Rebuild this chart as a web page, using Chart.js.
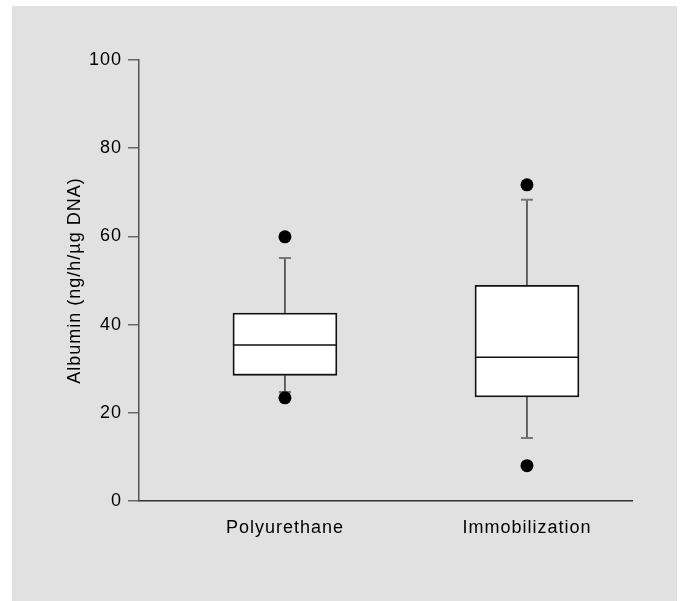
<!DOCTYPE html>
<html>
<head>
<meta charset="utf-8">
<script src="https://cdn.jsdelivr.net/npm/chart.js@4"></script>
<style>
  html, body { margin: 0; padding: 0; background: #ffffff; }
  #panel { position: absolute; left: 12px; top: 6px; width: 665px; height: 595px; background: #e1e1e1; }
</style>
</head>
<body>
<div id="panel"><canvas id="boxChart" width="665" height="595"></canvas></div>
<script>
const categories = ['Polyurethane', 'Immobilization'];
const positions = [1, 2];
const q1 = [28.5, 23.6];
const medians = [35.4, 32.6];
const q3 = [42.6, 48.9];
const whiskerLow = [24.7, 14.3];
const whiskerHigh = [55.1, 68.3];
const outliers = [[23.4, 59.9], [8.0, 71.7]];
const yTicks = [0, 20, 40, 60, 80, 100];

const fontFamily = '"Liberation Sans", Arial, Helvetica, sans-serif';
const textColor = '#000000';

// spacing the text out a bit, the original type is set loose
const spacing = {
  id: 'spacing',
  beforeLayout(chart) { chart.ctx.letterSpacing = '1px'; },
  beforeDraw(chart) { chart.ctx.letterSpacing = '1px'; }
};

const whiskers = {
  id: 'whiskers',
  beforeDatasetsDraw(chart) {
    const { ctx, scales: { x, y } } = chart;
    ctx.save();
    positions.forEach((pos, i) => {
      const cx = x.getPixelForValue(pos);
      ctx.strokeStyle = '#111111';
      ctx.lineWidth = 1.2;
      ctx.beginPath();
      ctx.moveTo(cx, y.getPixelForValue(q3[i]));
      ctx.lineTo(cx, y.getPixelForValue(whiskerHigh[i]));
      ctx.moveTo(cx, y.getPixelForValue(q1[i]));
      ctx.lineTo(cx, y.getPixelForValue(whiskerLow[i]));
      ctx.stroke();
      ctx.strokeStyle = '#777777';
      ctx.lineWidth = 2;
      ctx.beginPath();
      [whiskerHigh[i], whiskerLow[i]].forEach(v => {
        const py = y.getPixelForValue(v);
        ctx.moveTo(cx - 6, py);
        ctx.lineTo(cx + 6, py);
      });
      ctx.stroke();
    });
    ctx.restore();
  },
  afterDatasetsDraw(chart) {
    const { ctx, scales: { y } } = chart;
    const bars = chart.getDatasetMeta(0).data;
    ctx.save();
    ctx.strokeStyle = '#111111';
    ctx.lineWidth = 1.5;
    ctx.beginPath();
    bars.forEach((bar, i) => {
      const py = y.getPixelForValue(medians[i]);
      ctx.moveTo(bar.x - bar.width / 2, py);
      ctx.lineTo(bar.x + bar.width / 2, py);
    });
    ctx.stroke();
    ctx.restore();
  }
};

const outlierPoints = [];
outliers.forEach((list, i) => list.forEach(v => outlierPoints.push({ x: positions[i], y: v })));

new Chart(document.getElementById('boxChart'), {
  type: 'bar',
  data: {
    datasets: [{
      type: 'bar',
      data: positions.map((pos, i) => ({ x: pos, y: [q1[i], q3[i]] })),
      backgroundColor: '#ffffff',
      borderColor: '#111111',
      borderWidth: 1.8,
      borderSkipped: false,
      barThickness: 104
    }, {
      type: 'scatter',
      data: outlierPoints,
      backgroundColor: '#000000',
      borderWidth: 0,
      pointRadius: 6.5
    }]
  },
  options: {
    responsive: false,
    animation: false,
    devicePixelRatio: 1,
    layout: { padding: { left: 0, right: 45, top: 54, bottom: 0 } },
    plugins: { legend: { display: false }, tooltip: { enabled: false } },
    scales: {
      x: {
        type: 'linear',
        offset: false,
        min: 0.397,
        max: 2.434,
        afterBuildTicks: scale => { scale.ticks = positions.map(v => ({ value: v })); },
        afterFit: scale => { scale.height = 100; },
        grid: { display: false, drawTicks: false, offset: false },
        border: { color: '#333333', width: 1.5 },
        ticks: {
          padding: 16,
          color: textColor,
          font: { family: fontFamily, size: 18 },
          callback: value => categories[positions.indexOf(value)]
        }
      },
      y: {
        min: 0,
        max: 100,
        afterBuildTicks: scale => { scale.ticks = yTicks.map(v => ({ value: v })); },
        afterFit: scale => { scale.width = 127; },
        grid: { drawOnChartArea: false, drawTicks: true, tickLength: 11, color: '#666666', lineWidth: 1.5 },
        border: { color: '#555555', width: 1.5 },
        ticks: { padding: 6, color: textColor, font: { family: fontFamily, size: 18 } },
        title: {
          display: true,
          text: 'Albumin (ng/h/µg DNA)',
          color: textColor,
          font: { family: fontFamily, size: 18 },
          padding: { top: 52, bottom: 0 }
        }
      }
    }
  },
  plugins: [spacing, whiskers]
});
</script>
</body>
</html>
